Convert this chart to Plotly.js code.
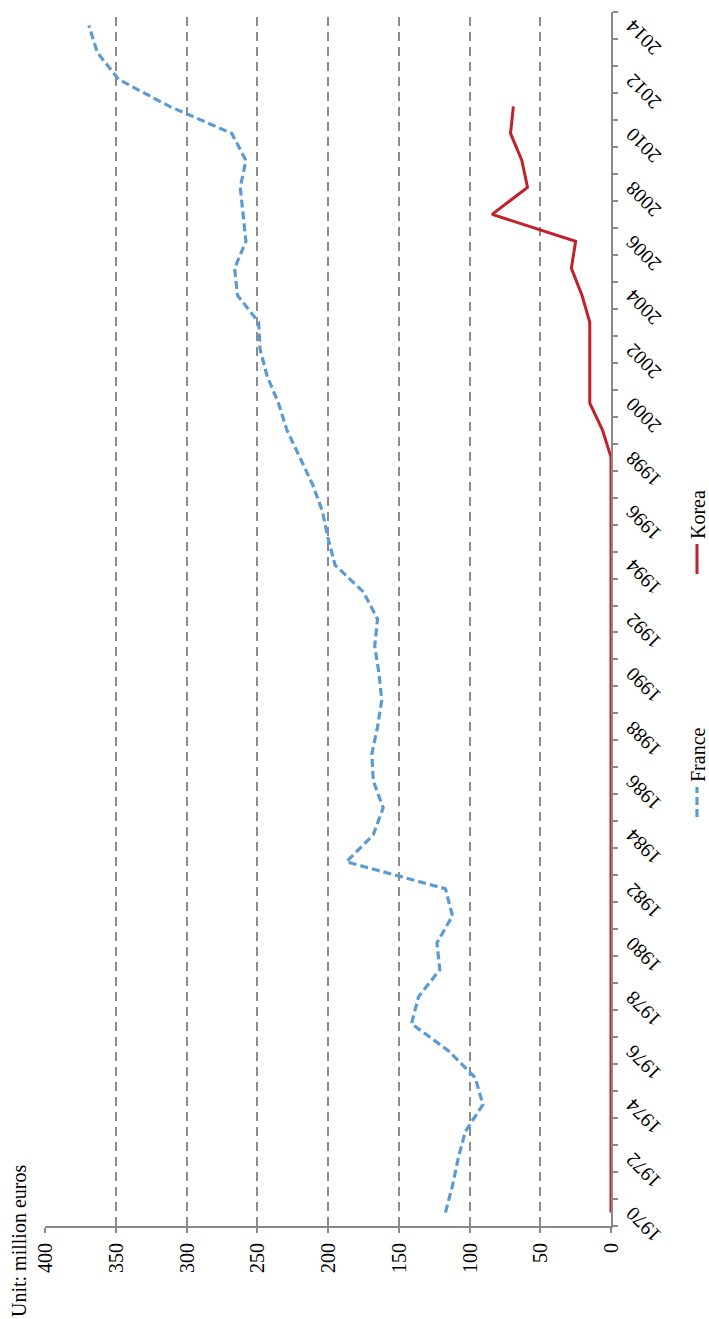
<!DOCTYPE html>
<html>
<head>
<meta charset="utf-8">
<script src="https://cdn.plot.ly/plotly-3.0.1.min.js"></script>
<style>
html, body { margin:0; padding:0; width:709px; height:1319px; overflow:hidden; background:#fff; }
#chart { position:absolute; left:0; top:0; width:1319px; height:709px;
  transform-origin:0 0; transform:translate(0px,1319px) rotate(-90deg); }
</style>
</head>
<body>
<div id="chart"></div>
<script>
var years = [1970,1971,1972,1973,1974,1975,1976,1977,1978,1979,1980,1981,1982,1983,1984,1985,1986,1987,1988,1989,1990,1991,1992,1993,1994,1995,1996,1997,1998,1999,2000,2001,2002,2003,2004,2005,2006,2007,2008,2009,2010,2011,2012,2013,2014];
var france = [117,112,108,103,90.5,96,115,141,136,121,123,112,117,187,168,161,168,169,165,162,164,167,165,175,195,200,204,211,220,229,235,243,248,249,264,266,258,260,262,258,268,312,348,363,369];
var koreaYears = [1970,1971,1972,1973,1974,1975,1976,1977,1978,1979,1980,1981,1982,1983,1984,1985,1986,1987,1988,1989,1990,1991,1992,1993,1994,1995,1996,1997,1998,1999,2000,2001,2002,2003,2004,2005,2006,2007,2008,2009,2010,2011];
var korea = [0,0,0,0,0,0,0,0,0,0,0,0,0,0,0,0,0,0,0,0,0,0,0,0,0,0,0,0,0,6,15,15,15,15,20.5,28,25,84,59,63,71,69];
var yearTickVals = [1970,1972,1974,1976,1978,1980,1982,1984,1986,1988,1990,1992,1994,1996,1998,2000,2002,2004,2006,2008,2010,2012,2014];
var yearTickText = ["1970","1972","1974","1976","1978","1980","1982","1984","1986","1988","1990","1992","1994","1996","1998","2000","2002","2004","2006","2008","2010","2012","2014"];
var valueTicks = [0,50,100,150,200,250,300,350,400];
var seriesNames = ["France","Korea"];
var unitLabel = "Unit: million euros";

var boundaries = [];
for (var i = 0; i < years.length + 1; i++) boundaries.push(years[0] - 0.5 + i);

var FONT = "Liberation Serif, Times New Roman, serif";
var AX = "#8a8a8a";
var W = 1319, H = 709, ML = 93, MR = 12, MT = 45, MB = 98;
var PW = W - ML - MR, PH = H - MT - MB;

var traces = [
  { x: years, y: france, name: seriesNames[0], type: "scatter", mode: "lines",
    line: { color: "#5b9bd5", width: 3.2, dash: "8px,4px" }, cliponaxis: false },
  { x: koreaYears, y: korea, name: seriesNames[1], type: "scatter", mode: "lines",
    line: { color: "#c0212b", width: 3 }, cliponaxis: false }
];

var layout = {
  width: W, height: H,
  margin: { l: ML, r: MR, t: MT, b: MB, autoexpand: false },
  paper_bgcolor: "#fff", plot_bgcolor: "#fff",
  font: { family: FONT, size: 20, color: "#000" },
  showlegend: true,
  legend: { orientation: "h", xref: "paper", x: (497 - ML) / PW, xanchor: "left",
            y: (MT + PH - 697) / PH, yanchor: "middle",
            entrywidth: 198, entrywidthmode: "pixels",
            font: { family: FONT, size: 20, color: "#000" }, bgcolor: "rgba(0,0,0,0)" },
  xaxis: {
    range: [years[0] - 0.5, years[years.length - 1] + 0.5], automargin: false,
    tickmode: "array", tickvals: yearTickVals, ticktext: yearTickText,
    tickangle: -45, ticks: "", showgrid: false, zeroline: false,
    showline: true, linecolor: AX, linewidth: 2, layer: "below traces",
    minor: { tickmode: "array", tickvals: boundaries, ticks: "outside", ticklen: 5,
             tickcolor: AX, tickwidth: 2, showgrid: false },
    tickfont: { family: FONT, size: 20, color: "#000" }, fixedrange: true
  },
  yaxis: {
    range: [0, 400], tickmode: "array", tickvals: valueTicks, automargin: false,
    ticks: "outside", ticklen: 5, tickcolor: AX, tickwidth: 2,
    showline: true, linecolor: AX, linewidth: 2, layer: "below traces",
    showgrid: true, gridcolor: "#8c8c8c", gridwidth: 2, griddash: "9px,6px",
    zeroline: false, ticklabelstandoff: 6,
    tickfont: { family: FONT, size: 20, color: "#000" }, fixedrange: true
  },
  annotations: [
    { text: unitLabel, xref: "paper", yref: "paper", x: -ML / PW, y: 1 + (MT - 19) / PH,
      xanchor: "left", yanchor: "middle", showarrow: false,
      font: { family: FONT, size: 20, color: "#000" } }
  ]
};

Plotly.newPlot("chart", traces, layout, { staticPlot: true, displayModeBar: false });
</script>
</body>
</html>
